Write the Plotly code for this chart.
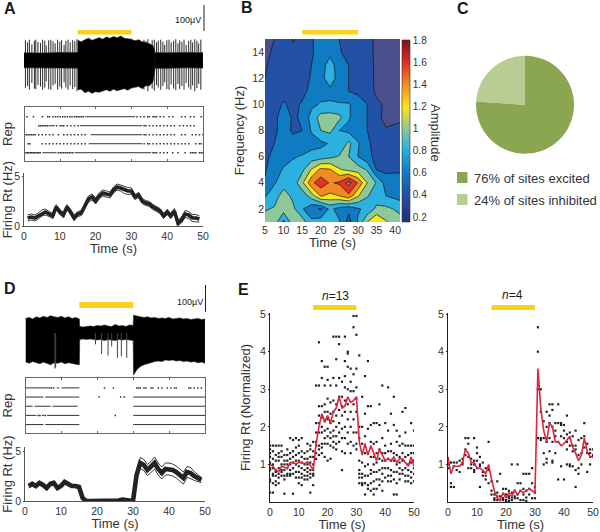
import plotly.graph_objects as go

W, H = 600, 532
FONT = "Liberation Sans"
TC = "#333333"
YELLOW = "#fbd21b"
RED = "#e2233d"

# ---------- Panel A: extracellular trace ----------
a_spike_t = [.4,1.0,1.5,2.2,2.9,3.3,3.9,4.6,5.2,5.8,6.2,6.9,7.5,8.1,8.7,9.4,10.0,10.5,11.2,11.7,12.3,12.9,13.6,14.2,14.8,
             33.5,34,34.6,35.2,35.8,36.4,37,37.5,38.2,38.8,39.3,39.9,40.5,41.1,41.8,42.4,43,43.5,44.1,44.7,45.3,46,46.6,47.1,47.7,48.3,48.8,49.4]
a_spike_up = [78,70,80,62,76,80,72,68,80,76,58,78,80,74,66,80,72,78,60,76,80,70,78,74,82,
              80,74,82,66,78,80,70,76,80,72,60,78,80,70,76,82,66,78,72,80,60,76,80,70,82,76,66,80]
a_spike_dn = [105,98,112,86,108,110,94,100,112,104,80,110,112,96,90,112,100,108,84,104,112,96,110,102,118,
              112,100,118,90,108,116,94,104,112,98,84,110,112,92,108,114,90,110,98,112,86,104,112,96,118,106,90,112]
a_core_t = [0,5,10,15,15.2,20,25,30,33,33.2,36,40,45,50]
a_core_up = [30,29,31,30,30,31,32,31,30,30,29,30,31,30]
a_core_dn = [28,30,29,29,30,30,29,31,30,30,29,30,28,29]
a_dense_t = [15,16,17,18,19,20,21,22,23,24,25,26,27,28,29,30,31,32,33,34,35,36,36.5]
a_dense_up = [78,72,80,86,78,84,88,82,90,86,92,88,94,86,84,82,76,80,72,70,64,58,40]
a_dense_dn = [112,110,124,118,126,120,122,116,112,118,110,116,112,108,114,106,104,100,108,96,98,82,44]

# ---------- Panel A: raster ----------
a_dots = {
 5: [.7,2.5,5,6.5,7,8,8.7,9.3,10,10.7,11.3,12,12.7,13.3,14,14.5,15,15.5,16,16.5,31.5,32.5,33.5,34.5,35,36,36.5,37,38,39,40.5,41.5,44,45,46.5,47.5,49.5],
 4: [4,4.5,5,5.5,6,6.5,9,10,10.5,11,12,13,14,15,33.5,34,35,36,37,38,39,40,41,42,43.5,44.5,45.5,46.5,47.5],
 3: [0,.5,1,1.5,2,2.5,3,4,5,6,7,8,9.5,11,12,13,14,15,16,17,33.5,34,35,36,37,38,39,40,41,42,44,45,47,48,49,50],
 2: [1,1.5,5,6,7,8,9,10,11,12,13,14,15,16,17,33.5,34.5,35,36,37,38,39,40,41,42,43,44,45,46,48,49,49.5],
 1: [0,.4,.8,1.2,1.6,2,2.4,2.8,3.2,3.6,4,4.4,9.5,10,10.5,11,11.5,12,12.5,13,13.5,36,36.5,37,38,39,40,41.5,43,45,46.5,47,47.5,48,49,49.5,50],
}
a_segs = {5: [[17,31]], 4: [[6.8,8.5],[15.5,33]], 3: [[18.5,33]], 2: [[18,33]], 1: [[5,9],[14,35.5]]}

# ---------- Panel A: firing rate ----------
a_rate_t = list(range(1, 50))
a_rate = [.8,.9,.8,1.0,1.3,1.4,1.2,1.0,1.9,1.4,1.1,1.9,1.4,.8,1.2,1.3,2.0,2.7,2.9,2.5,3.0,3.3,3.2,3.1,3.6,3.9,3.8,3.6,3.5,3.5,2.9,3.1,2.5,2.3,2.2,1.9,1.7,1.5,1.0,1.4,1.0,1.5,.3,.6,1.2,1.1,.8,.8,.7]
a_rate_sd = [.3,.3,.3,.3,.3,.3,.25,.25,.25,.25,.25,.25,.25,.25,.25,.25,.25,.3,.3,.3,.3,.3,.3,.3,.3,.3,.3,.35,.35,.3,.25,.25,.25,.25,.25,.25,.25,.25,.25,.25,.25,.25,.25,.3,.35,.35,.35,.35,.3]

# ---------- Panel B: spectrogram ----------
b_time = [5,7.5,10,12.5,15,17.5,20,22.5,25,27.5,30,32.5,35,37.5,41.3]
b_freq = [1,2,3,4,5,6,7,8,9,10,11,12,13,14,15]
b_amp = [
 [1.0,1.02,.65,1.02,1.0,.75,.8,.85,.72,.42,.72,1.1,1.3,1.12,.98],
 [.88,.92,1.0,.95,.72,.55,.48,.75,.62,.55,.68,.75,.95,.95,.85],
 [.68,.8,1.0,.85,.78,1.0,1.32,1.25,1.3,1.45,1.12,.92,.78,.7,.62],
 [.52,.68,.8,.78,1.05,1.45,1.62,1.48,1.53,1.78,1.48,1.1,.88,.62,.6],
 [.48,.62,.72,.78,.85,1.12,1.35,1.32,1.12,1.05,1.0,.88,.5,.45,.47],
 [.46,.55,.62,.68,.72,.78,.8,.85,.92,.9,.7,.56,.44,.42,.42],
 [.42,.5,.58,.55,.56,.62,.65,.72,.72,.95,.72,.55,.4,.38,.38],
 [.4,.47,.56,.48,.5,.72,.9,.95,.7,.65,.6,.5,.33,.31,.33],
 [.38,.46,.58,.48,.52,.78,.98,1.0,.95,.72,.6,.5,.33,.27,.28],
 [.36,.43,.52,.45,.52,.65,.72,.72,.72,.72,.6,.5,.33,.28,.27],
 [.33,.4,.44,.42,.45,.55,.62,.65,.58,.5,.46,.38,.27,.25,.25],
 [.3,.38,.43,.4,.42,.52,.64,.8,.62,.5,.44,.36,.27,.25,.25],
 [.28,.36,.42,.38,.36,.5,.62,.78,.6,.5,.48,.36,.27,.25,.25],
 [.27,.32,.4,.33,.32,.47,.6,.65,.52,.42,.4,.35,.27,.25,.22],
 [.25,.3,.4,.29,.32,.48,.6,.6,.5,.42,.4,.35,.27,.25,.2],
]
b_band_colors = ["#4c4f8d","#2351a5","#0f7bc3","#2bb0e0","#8dc89b","#f8e71c","#f28a22","#df3529","#8c7b6b"]
b_cbar_values = [.155, 1.8]
b_cbar_ticks = [.2,.4,.6,.8,1,1.2,1.4,1.6,1.8]
b_cbar_scale = [[0,"#24307f"],[.03,"#24307f"],[.15,"#2351a5"],[.27,"#0f7bc3"],[.4,"#2bb0e0"],[.51,"#8dc89b"],[.63,"#f8e71c"],[.76,"#f28a22"],[.88,"#df2a26"],[1,"#7a1212"]]

# ---------- Panel C ----------
c_labels = ["76% of sites excited", "24% of sites inhibited"]
c_values = [76, 24]
c_colors = ["#8aa650", "#b7cd91"]

# ---------- Panel D: trace ----------
d_env_t = [0,1,2,3,4,5,6,7,8,9,10,11,12,13,14,15,15.1,16,17,18,19,20,21,22,23,24,25,26,27,28,29,30,30.1,31,32,33,34,35,36,37,38,39,40,41,42,43,44,45,46,47,48,49,50]
d_env_up = [54,58,52,60,56,62,58,64,60,58,62,56,60,54,58,52,24,22,24,26,24,28,26,30,26,24,32,26,28,24,30,28,66,62,60,58,60,56,58,54,56,54,58,52,54,56,52,54,50,52,54,50,52]
d_env_dn = [-108,-112,-106,-110,-114,-108,-112,-118,-110,-112,-108,-114,-110,-112,-116,-118,-24,-22,-24,-22,-24,-26,-24,-28,-24,-26,-28,-24,-26,-24,-26,-28,-156,-136,-124,-118,-112,-110,-106,-104,-106,-100,-102,-100,-104,-102,-106,-104,-108,-106,-110,-108,-112]
d_spike_t = [8.2,8.4,21.2,23,25.6,26.7,28.2,19.5,24]
d_spike_dn = [-132,-128,-78,-84,-92,-86,-92,-42,-50]

# ---------- Panel D: raster ----------
d_dots = {
 5: [7.2,7.8,22,24.5,31,31.5,32,33,33.5,35,35.5,37,38,39.5,40.5,41.5,42,45.5,46,47,48,49],
 4: [20.5,26.5,27.5],
 3: [],
 2: [3.5,4,5.5,25],
 1: [],
}
d_segs = {5: [[0,7],[8.7,9.4],[10,15]], 4: [[0,5],[5.5,15],[30,50]], 3: [[0,2],[2.5,7],[7.5,14.5],[30,50]], 2: [[0,3],[4.5,5.2],[6,15],[30,50]], 1: [[0,5],[5.5,15],[30,50]]}

# ---------- Panel D: firing rate ----------
d_rate_t = list(range(1, 50))
d_rate = [1.5,1.7,1.5,1.8,1.6,1.3,1.7,1.8,1.3,1.5,1.9,1.7,1.5,1.5,1.4,.3,0,0,0,0,.05,0,0,.05,0,.05,.15,.15,.05,0,2.6,3.8,3.6,3.1,3.4,3.8,3.2,2.8,3.2,3.2,3.1,2.9,2.6,2.3,2.9,2.8,2.5,2.3,2.1]
d_rate_sd = [.2,.2,.2,.2,.2,.2,.2,.2,.2,.2,.2,.2,.15,.15,.15,.1,.05,.05,.05,.05,.05,.05,.05,.05,.05,.05,.08,.08,.05,.05,.4,.55,.55,.55,.55,.6,.6,.6,.6,.6,.6,.6,.6,.6,.55,.55,.45,.35,.25]

# ---------- Panel E: normalized firing rate, n=13 ----------
e13_pts = [
 [1.5,1.4,1.3,1.2,1.05,.9,.85,.6,.55,.25],[1.5,1.35,1.15,1.0,.9,.75,.7,.5,.25],[1.5,1.25,1.1,.85,.8,.7,.55,.45],
 [1.5,1.3,1.2,1.1,.9,.75,.65,.5],[1.5,1.35,1.2,1.0,.85,.8,.7],[1.25,1.1,1.0,.85,.7,.6,.22],
 [1.4,1.25,1.1,1.0,.9,.75,.7],[1.7,1.3,1.15,1.0,.85,.75,.7],[1.65,1.35,1.2,1.05,.9,.75,.22],
 [1.7,1.45,1.25,1.1,1.0,.8,.65],[1.65,1.5,1.3,1.1,.95,.8,.65,.5],[1.7,1.35,1.2,1.05,.9,.75,.65,.45],
 [1.3,1.15,1.0,.85,.7,.6],[1.55,1.35,1.15,1.0,.9,.8,.7,.6],[1.5,1.4,1.2,1.05,.85,.75,.65,.25],
 [1.6,1.35,1.2,1.0,.85,.75,.7,.45],[3.1,2.1,1.85,1.6,1.5,1.3,1.15],[4.25,3.1,2.55,2.3,2.1,1.85,1.5,1.4,1.25],
 [3.75,3.3,2.55,2.25,2.0,1.85,1.55,1.45,1.3],[3.6,3.1,2.6,2.4,2.15,1.9,1.7,1.55,1.2],[3.6,3.25,2.75,2.4,2.2,1.95,1.75,1.55,1.1],
 [3.1,2.65,2.35,2.1,1.85,1.7,1.5,1.15],[4.4,3.3,2.7,2.4,2.15,1.9,1.75,1.6,1.45],[4.4,3.8,3.1,2.6,2.3,2.0,1.75,1.55,1.4],
 [4.4,4.2,3.3,2.8,2.45,2.1,1.85,1.6],[3.2,2.8,2.55,2.3,1.95,1.7,1.35,.85],[4.4,3.75,3.35,3.05,2.7,2.4,2.0,1.7,1.3],
 [4.0,3.95,3.6,3.0,2.6,2.2,1.85,1.55],[3.55,3.2,2.95,2.4,2.0,1.6,1.3],[4.95,4.65,3.4,2.95,2.6,2.2,1.85,1.5],
 [4.95,4.45,3.55,3.05,2.75,2.4,1.85,1.55,1.4],[3.9,2.0,1.7,1.1,.85,.75,.65,.5],[2.8,2.0,1.55,1.05,.75,.65,.5,.45],
 [3.35,2.35,1.75,1.3,.95,.7,.5,.2],[3.75,2.55,1.95,1.3,1.0,.7,.45,.35],[2.55,2.05,1.6,1.2,.85,.75,.5,.3],
 [2.1,1.55,1.2,1.0,.8,.55,.35,.2],[2.1,1.6,1.3,1.05,.8,.6,.35],[2.6,2.05,1.4,1.15,.85,.6,.45],
 [3.1,1.7,1.3,1.1,.9,.75,.55,.3],[2.1,1.5,1.3,1.1,.9,.65],[3.05,1.9,1.35,1.15,.9,.7,.55],
 [2.35,1.55,1.35,1.1,.85,.7,.55],[2.8,2.05,1.3,1.1,.8,.6,.2],[1.9,1.6,1.25,1.0,.8,.5,.2],
 [1.75,1.5,1.2,1.05,.9,.75,.6],[2.4,1.55,1.3,1.1,.85,.75],[2.5,1.85,1.5,1.2,.9,.7,.55],
 [1.5,1.25,1.0,.85,.7,.55],[2.1,1.5,1.3,1.05,.8,.65,.5],[1.9,1.5,1.3,1.1,.9,.75,.55],
]
e13_mean = [1.0,.95,.85,.8,.95,.92,.9,1.05,1.05,1.02,1.05,1.05,1.02,1.07,.98,.85,1.55,2.0,2.35,2.15,2.3,2.1,2.4,2.5,2.8,2.5,2.55,2.8,2.65,2.7,2.8,1.6,1.25,1.55,1.25,1.5,1.3,1.1,1.4,1.25,1.1,1.15,1.1,1.2,1.05,1.15,1.15,1.05,.95,1.2,.95]

# ---------- Panel E: normalized firing rate, n=4 ----------
e4_pts = [
 [1.0,.9],[1.05,.5,.4],[1.05,.95,.4],[1.05,.85],[1.1,.8],[1.15,1.05,1.0],[1.7,1.4,1.25],[1.7,1.55,1.2,.9],[1.15,1.0,.9],
 [1.7,1.1,1.0,.8,.85],[1.45,1.3,1.1,.9],[1.2,1.0,.95,.4],[.8,.7,1.05],[.9,.7,.6],[1.6,.9,.85,.5],
 [.3,.2,.55],[.2,.1,.05],[.25,.05,.15,.55],[.75,.15,.05],[.35,.1,.05],[.35,.2,.05,.02],[.3,.15,.1,.03],[1.0,.25,.12,.05],
 [.3,.15,.1],[1.0,.5,.2,.1],[.5,.3,.05],[.75,.35,.2,.05],[.75,.3,.12,.03],[.75,.35,.2],[.9,.5,.1],[.4,.25,.1],
 [4.65,4.0,3.0,1.7],[3.0,2.4,1.7,1.65],[2.15,1.7,1.3,1.0],[2.4,2.0,1.6,1.15,1.05],[2.6,2.3,2.1,1.7,1.35],[2.6,2.45,2.0,1.6,1.1,1.05],
 [2.1,1.9,1.75,1.3],[2.6,2.1,1.6,.6],[2.1,2.05,1.75,.95],[2.05,1.9,1.7,.6],[2.3,1.8,1.6,1.4,1.0],[1.85,1.7,1.5,1.0,.95],
 [1.75,1.5,1.35,.95],[1.9,1.5,1.4,.85,.4],[1.65,1.25,.9,.75],[1.7,1.3,1.0],[2.1,1.75,1.45],[1.55,1.3,.8],[1.4,1.3,1.2,1.0],
 [1.4,1.25,1.2],
]
e4_mean = [1.2,.75,.95,.95,.95,1.05,1.4,1.3,1.05,1.05,.9,.9,.85,.75,1.0,.6,.3,.1,.05,.25,.1,.25,.15,.3,.2,.3,.25,.3,.35,.3,.25,3.55,2.5,1.9,1.6,2.1,2.0,1.6,1.6,1.5,1.55,1.65,1.75,1.45,1.3,1.1,1.25,1.7,1.35,1.2,1.2]

time_ticks = [0,10,20,30,40,50]
stim_window = [15, 30]


def px_x(a, b):
    return [a / W, b / W]


def px_y(top, bottom):
    return [1 - bottom / H, 1 - top / H]


def vlines(ts, lo, hi):
    xs, ys = [], []
    for t, a, b in zip(ts, lo, hi):
        xs += [t, t, None]
        ys += [a, b, None]
    return xs, ys


fig = go.Figure()


def add_trace_panel(ax, core_t, core_up, core_dn):
    fig.add_trace(go.Scatter(x=core_t + core_t[::-1], y=core_up + core_dn[::-1], fill="toself", fillcolor="#000000",
                             mode="lines", line=dict(color="#222222", width=.6), xaxis=f"x{ax}", yaxis=f"y{ax}",
                             showlegend=False, hoverinfo="skip"))


# Panel A trace
xs, ys = vlines(a_spike_t, [-v for v in a_spike_dn], a_spike_up)
fig.add_trace(go.Scatter(x=xs, y=ys, mode="lines", line=dict(color="#2a2a2a", width=1), xaxis="x1", yaxis="y1", showlegend=False))
add_trace_panel(1, a_core_t, a_core_up, [-v for v in a_core_dn])
add_trace_panel(1, a_dense_t, a_dense_up, [-v for v in a_dense_dn])


def add_raster(ax, dots, segs):
    for rep, ts in dots.items():
        if ts:
            fig.add_trace(go.Scatter(x=ts, y=[rep] * len(ts), mode="markers",
                                     marker=dict(symbol="square", size=1.5, color="#333333"),
                                     xaxis=f"x{ax}", yaxis=f"y{ax}", showlegend=False))
    for rep, ss in segs.items():
        xs, ys = [], []
        for a, b in ss:
            xs += [a, b, None]
            ys += [rep, rep, None]
        fig.add_trace(go.Scatter(x=xs, y=ys, mode="lines", line=dict(color="#333333", width=1),
                                 xaxis=f"x{ax}", yaxis=f"y{ax}", showlegend=False))


add_raster(2, a_dots, a_segs)


def add_rate(ax, t, m, sd, w):
    up = [a + b for a, b in zip(m, sd)]
    lo = [max(a - b, 0) for a, b in zip(m, sd)]
    for s in (up, lo):
        fig.add_trace(go.Scatter(x=t, y=s, mode="lines", line=dict(color="#222222", width=.9),
                                 xaxis=f"x{ax}", yaxis=f"y{ax}", showlegend=False))
    fig.add_trace(go.Scatter(x=t, y=m, mode="lines", line=dict(color="#222222", width=w),
                             xaxis=f"x{ax}", yaxis=f"y{ax}", showlegend=False))


add_rate(3, a_rate_t, a_rate, a_rate_sd, 3.6)

# Panel B
n = len(b_band_colors) - 1
fig.add_trace(go.Contour(x=b_time, y=b_freq, z=b_amp, xaxis="x4", yaxis="y4", showscale=False,
                         zmin=.2, zmax=1.8, autocontour=False,
                         contours=dict(start=.3, end=1.7, size=.2, coloring="fill"),
                         colorscale=[[i / n, c] for i, c in enumerate(b_band_colors)],
                         line=dict(color="#111111", width=.7, smoothing=0)))
fig.add_trace(go.Scatter(x=[None, None], y=[None, None], mode="markers", xaxis="x4", yaxis="y4", showlegend=False,
                         marker=dict(color=b_cbar_values, cmin=b_cbar_values[0], cmax=b_cbar_values[1], colorscale=b_cbar_scale, showscale=True,
                                     colorbar=dict(x=402 / W, xanchor="left", y=1 - 222 / H, yanchor="bottom", xpad=0, ypad=0,
                                                   lenmode="pixels", len=182, thicknessmode="pixels", thickness=8,
                                                   outlinewidth=.6, outlinecolor="#333333", tickvals=b_cbar_ticks,
                                                   ticktext=[str(v) for v in b_cbar_ticks], ticks="", ticklabelposition="outside",
                                                   tickfont=dict(size=10, color=TC, family=FONT)))))

# Panel C
fig.add_trace(go.Pie(labels=c_labels, values=c_values, sort=False, direction="clockwise", rotation=0, textinfo="none",
                     marker=dict(colors=c_colors, line=dict(width=0)), domain=dict(x=px_x(476, 574), y=px_y(55.7, 153.7)),
                     showlegend=False, hoverinfo="label"))

# Panel D trace
add_trace_panel(5, d_env_t, d_env_up, d_env_dn)
xs, ys = vlines(d_spike_t, d_spike_dn, [0] * len(d_spike_t))
fig.add_trace(go.Scatter(x=xs, y=ys, mode="lines", line=dict(color="#444444", width=1), xaxis="x5", yaxis="y5", showlegend=False))
add_raster(6, d_dots, d_segs)
add_rate(7, d_rate_t, d_rate, d_rate_sd, 4.6)


def add_summary(ax, pts, mean):
    xs, ys = [], []
    for t, vals in enumerate(pts):
        xs += [t] * len(vals)
        ys += vals
    fig.add_trace(go.Scatter(x=xs, y=ys, mode="markers", marker=dict(symbol="square", size=2.2, color="#222222"),
                             xaxis=f"x{ax}", yaxis=f"y{ax}", showlegend=False))
    fig.add_trace(go.Scatter(x=list(range(len(mean))), y=mean, mode="lines", line=dict(color=RED, width=1.6),
                             xaxis=f"x{ax}", yaxis=f"y{ax}", showlegend=False))


add_summary(8, e13_pts, e13_mean)
add_summary(9, e4_pts, e4_mean)

tickf = dict(size=10.5, color=TC, family=FONT)
titlef = dict(size=13, color=TC, family=FONT)


def hidden(dom, rng, anchor):
    return dict(domain=dom, range=rng, visible=False, anchor=anchor, fixedrange=True)


layout = dict(width=W, height=H, margin=dict(l=0, r=0, t=0, b=0, autoexpand=False), autosize=False, paper_bgcolor="white", plot_bgcolor="rgba(0,0,0,0)",
              font=dict(family=FONT, color=TC), showlegend=False)

# A
layout["xaxis"] = hidden(px_x(24, 203), [0, 50], "y")
layout["yaxis"] = hidden(px_y(34, 98), [-144, 102], "x")


def raster_axes(i, xd, yd, title):
    layout[f"xaxis{i}"] = dict(domain=xd, range=[0, 50], anchor=f"y{i}", tickvals=time_ticks[1:-1], showticklabels=False,
                               ticks="inside", ticklen=2, tickcolor="#666666", tickwidth=.7, showline=True, mirror="ticks",
                               linecolor="#666666", linewidth=.8, showgrid=False, zeroline=False)
    layout[f"yaxis{i}"] = dict(domain=yd, range=[.08, 6.08], anchor=f"x{i}", showticklabels=False, ticks="", showline=True, mirror=True,
                               linecolor="#666666", linewidth=.8, showgrid=False, zeroline=False,
                               title=dict(text=title, font=titlef, standoff=9))


raster_axes(2, px_x(24.5, 203), px_y(107, 161), "Rep")


def rate_axes(i, xd, yd, ymax):
    layout[f"xaxis{i}"] = dict(domain=xd, range=[0, 50], anchor=f"y{i}", tickvals=time_ticks, tickfont=tickf, ticks="",
                               showline=True, linecolor="#555555", linewidth=.8, showgrid=False, zeroline=False,
                               title=dict(text="Time (s)", font=titlef, standoff=3))
    layout[f"yaxis{i}"] = dict(domain=yd, range=[0, ymax], anchor=f"x{i}", tickvals=[0, 5], tickfont=tickf, ticks="outside", ticklen=1,
                               tickcolor="#555555", showline=True, linecolor="#555555", linewidth=.8, showgrid=False, zeroline=False,
                               title=dict(text="Firing Rt (Hz)", font=titlef, standoff=3))


rate_axes(3, px_x(24, 203), px_y(173, 226), 5.3)

# B
layout["xaxis4"] = dict(domain=px_x(265, 400), range=[5, 41.3], anchor="y4", tickvals=[5,10,15,20,25,30,35,40], tickfont=tickf, ticks="", showline=False,
                        showgrid=False, zeroline=False, title=dict(text="Time (s)", font=titlef, standoff=3))
layout["yaxis4"] = dict(domain=px_y(39, 222), range=[1, 15], anchor="x4", tickvals=[2,4,6,8,10,12,14], tickfont=tickf, ticks="", showline=False,
                        showgrid=False, zeroline=False, title=dict(text="Frequency (Hz)", font=titlef, standoff=4))

# D
layout["xaxis5"] = hidden(px_x(25.5, 205), [0, 50], "y5")
layout["yaxis5"] = hidden(px_y(312, 378), [-167, 78], "x5")
raster_axes(6, px_x(25.5, 205), px_y(378, 433), "Rep")
rate_axes(7, px_x(25, 205), px_y(447, 501), 5.4)


def summary_axes(i, xd, ytitle):
    layout[f"xaxis{i}"] = dict(domain=xd, range=[0, 50], anchor=f"y{i}", tickvals=time_ticks, tickfont=tickf, ticks="",
                               showline=True, linecolor="#222222", linewidth=1.2, showgrid=False, zeroline=False,
                               title=dict(text="Time (s)", font=titlef, standoff=3))
    yax = dict(domain=px_y(313, 502), range=[0, 5.03], anchor=f"x{i}", tickvals=[1, 2, 3, 4, 5], tickfont=tickf, ticks="outside", ticklen=1,
               tickcolor="#222222", showline=True, linecolor="#222222", linewidth=1.2, showgrid=False, zeroline=False)
    if ytitle:
        yax["title"] = dict(text=ytitle, font=titlef, standoff=6)
    layout[f"yaxis{i}"] = yax


summary_axes(8, px_x(270, 414), "Firing Rt (Normalized)")
summary_axes(9, px_x(448, 593), None)


def stim_bar(xaxis, top, bottom):
    return dict(type="rect", xref=xaxis, yref="paper", x0=stim_window[0], x1=stim_window[1], y0=1 - bottom / H, y1=1 - top / H,
                fillcolor=YELLOW, line=dict(width=0), layer="above")


def scale_bar(x, top, bottom):
    return dict(type="line", xref="paper", yref="paper", x0=x / W, x1=x / W, y0=1 - bottom / H, y1=1 - top / H,
                line=dict(color="#222222", width=1))


def legend_square(color, top, bottom):
    return dict(type="rect", xref="paper", yref="paper", x0=457 / W, x1=467.5 / W, y0=1 - bottom / H, y1=1 - top / H,
                fillcolor=color, line=dict(width=0))


layout["shapes"] = [stim_bar("x", 30, 34.5), stim_bar("x4", 30, 34.5), stim_bar("x5", 302, 308),
                    stim_bar("x8", 305, 310), stim_bar("x9", 305, 310),
                    scale_bar(204, 5, 31), scale_bar(205.5, 285, 312),
                    legend_square(c_colors[0], 172, 183), legend_square(c_colors[1], 194, 205)]


def label(text, px, py, size=16, bold=True, anchor="left", color="#1a1a1a", angle=0):
    t = f"<b>{text}</b>" if bold else text
    return dict(text=t, x=px / W, y=1 - py / H, xref="paper", yref="paper", showarrow=False, xanchor=anchor, yanchor="middle",
                textangle=angle, font=dict(size=size, color=color, family=FONT))


layout["annotations"] = [label("A", 2, 8), label("B", 239, 7), label("C", 455, 8), label("D", 2, 288), label("E", 236, 289),
                         label("100µV", 202.5, 20, 9, False, "right"), label("100µV", 204.5, 302, 9, False, "right"),
                         label("<i>n</i>=13", 335, 296, 12, False, "center"), label("<i>n</i>=4", 512, 295, 12, False, "center"),
                         label("Amplitude", 436, 133, 13, False, "center", TC, 90),
                         label(c_labels[0], 472, 178, 13, False, "left", TC), label(c_labels[1], 472, 200, 13, False, "left", TC)]

fig.update_layout(**layout)
fig.write_html("out.html", config={"displayModeBar": False},
               post_script="document.body.style.margin='0';document.documentElement.style.overflow='hidden';")
